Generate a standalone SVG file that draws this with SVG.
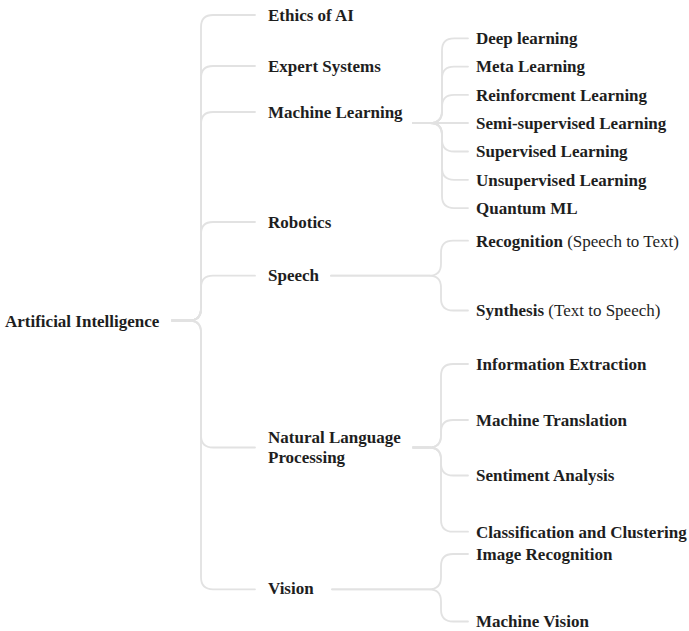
<svg xmlns="http://www.w3.org/2000/svg" width="689" height="631" viewBox="0 0 689 631">
  <style>
    .edge { fill: none; stroke: #e2e2e2; stroke-width: 1.8; stroke-linecap: round; stroke-linejoin: round; }
    .node text { font-family: "Liberation Serif", "Times New Roman", serif; font-size: 17px; font-weight: bold; fill: #1e1e1e; }
    .node text .plain { font-weight: normal; }
  </style>
  <rect width="689" height="631" fill="#ffffff"/>

  <g id="connectors">
    <!-- root to first level (trunk at x=201) -->
    <path class="edge" d="M172,320.5 H189 Q201,320.5 201,308.5 V27 Q201,15 213,15 H255"/>
    <path class="edge" d="M172,320.5 H189 Q201,320.5 201,308.5 V78 Q201,66 213,66 H255"/>
    <path class="edge" d="M172,320.5 H189 Q201,320.5 201,308.5 V124 Q201,112 213,112 H255"/>
    <path class="edge" d="M172,320.5 H189 Q201,320.5 201,308.5 V234 Q201,222 213,222 H255"/>
    <path class="edge" d="M172,320.5 H189 Q201,320.5 201,308.5 V287.7 Q201,275.7 213,275.7 H255"/>
    <path class="edge" d="M172,320.5 H189 Q201,320.5 201,332.5 V435.5 Q201,447.5 213,447.5 H255"/>
    <path class="edge" d="M172,320.5 H189 Q201,320.5 201,332.5 V577.3 Q201,589.3 213,589.3 H255"/>

    <!-- Machine Learning to its children (x=442) -->
    <path class="edge" d="M413,123 H430 Q442,123 442,111 V50.3 Q442,38.3 454,38.3 H468"/>
    <path class="edge" d="M413,123 H430 Q442,123 442,111 V78.6 Q442,66.6 454,66.6 H468"/>
    <path class="edge" d="M413,123 H430 Q442,123 442,111 V106.9 Q442,94.9 454,94.9 H468"/>
    <path class="edge" d="M413,123 H468"/>
    <path class="edge" d="M413,123 H430 Q442,123 442,135 V139.5 Q442,151.5 454,151.5 H468"/>
    <path class="edge" d="M413,123 H430 Q442,123 442,135 V167.8 Q442,179.8 454,179.8 H468"/>
    <path class="edge" d="M413,123 H430 Q442,123 442,135 V196.1 Q442,208.1 454,208.1 H468"/>

    <!-- Speech to its children -->
    <path class="edge" d="M331,275.7 H429 Q441,275.7 441,263.7 V252.7 Q441,240.7 453,240.7 H468"/>
    <path class="edge" d="M331,275.7 H429 Q441,275.7 441,287.7 V298.5 Q441,310.5 453,310.5 H468"/>

    <!-- Natural Language Processing to its children -->
    <path class="edge" d="M413,447.5 H429 Q441,447.5 441,435.5 V376 Q441,364 453,364 H468"/>
    <path class="edge" d="M413,447.5 H429 Q441,447.5 441,435.5 V432 Q441,420 453,420 H468"/>
    <path class="edge" d="M413,447.5 H429 Q441,447.5 441,459.5 V463.5 Q441,475.5 453,475.5 H468"/>
    <path class="edge" d="M413,447.5 H429 Q441,447.5 441,459.5 V519.7 Q441,531.7 453,531.7 H468"/>

    <!-- Vision to its children -->
    <path class="edge" d="M332,589.3 H429 Q441,589.3 441,577.3 V566 Q441,554 453,554 H468"/>
    <path class="edge" d="M332,589.3 H429 Q441,589.3 441,601.3 V609.5 Q441,621.5 453,621.5 H468"/>
  </g>

  <g id="artificial-intelligence" class="node"><text x="5" y="326.5">Artificial Intelligence</text></g>

  <g id="ethics-of-ai" class="node"><text x="268" y="21">Ethics of AI</text></g>
  <g id="expert-systems" class="node"><text x="268" y="72">Expert Systems</text></g>
  <g id="machine-learning" class="node"><text x="268" y="117.5">Machine Learning</text></g>
  <g id="robotics" class="node"><text x="268" y="228">Robotics</text></g>
  <g id="speech" class="node"><text x="268" y="281">Speech</text></g>
  <g id="natural-language-processing" class="node">
    <text x="268" y="443.3">Natural Language</text>
    <text x="268" y="463.3">Processing</text>
  </g>
  <g id="vision" class="node"><text x="268" y="593.5">Vision</text></g>

  <g id="deep-learning" class="node"><text x="476" y="44">Deep learning</text></g>
  <g id="meta-learning" class="node"><text x="476" y="72.3">Meta Learning</text></g>
  <g id="reinforcement-learning" class="node"><text x="476" y="100.6">Reinforcment Learning</text></g>
  <g id="semi-supervised-learning" class="node"><text x="476" y="128.9">Semi-supervised Learning</text></g>
  <g id="supervised-learning" class="node"><text x="476" y="157.2">Supervised Learning</text></g>
  <g id="unsupervised-learning" class="node"><text x="476" y="185.5">Unsupervised Learning</text></g>
  <g id="quantum-ml" class="node"><text x="476" y="213.8">Quantum ML</text></g>

  <g id="recognition" class="node"><text x="476" y="246.5">Recognition<tspan class="plain"> (Speech to Text)</tspan></text></g>
  <g id="synthesis" class="node"><text x="476" y="316.3">Synthesis<tspan class="plain"> (Text to Speech)</tspan></text></g>

  <g id="information-extraction" class="node"><text x="476" y="369.8">Information Extraction</text></g>
  <g id="machine-translation" class="node"><text x="476" y="425.8">Machine Translation</text></g>
  <g id="sentiment-analysis" class="node"><text x="476" y="481.3">Sentiment Analysis</text></g>
  <g id="classification-and-clustering" class="node"><text x="476" y="537.5">Classification and Clustering</text></g>

  <g id="image-recognition" class="node"><text x="476" y="559.8">Image Recognition</text></g>
  <g id="machine-vision" class="node"><text x="476" y="627.3">Machine Vision</text></g>
</svg>
